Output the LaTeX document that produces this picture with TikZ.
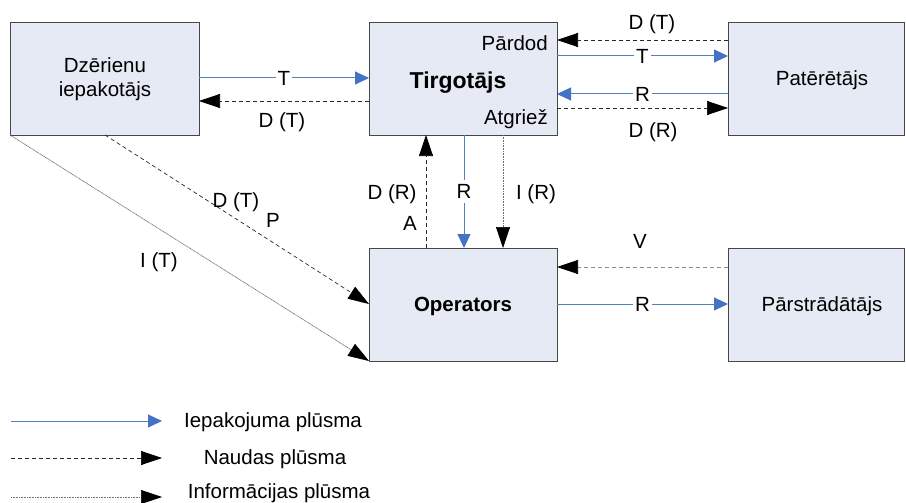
\documentclass[tikz,border=0pt]{standalone}
\usepackage{fontspec}
\setmainfont{Liberation Sans}
\usetikzlibrary{arrows.meta}
\definecolor{boxfill}{RGB}{230,234,245}
\definecolor{boxline}{RGB}{70,70,70}
\definecolor{pblue}{RGB}{79,129,189}
\definecolor{ablue}{RGB}{68,114,196}
\definecolor{dline}{RGB}{40,40,40}
\definecolor{vline}{RGB}{140,140,140}
\definecolor{iline}{RGB}{110,110,110}
\tikzset{
  every node/.style={font=\fontsize{20.5}{24}\selectfont},
  entity/.style={draw=boxline, fill=boxfill, line width=0.9pt, inner sep=0pt, anchor=north west},
  lbl/.style={inner sep=0pt, text height=14.7pt, text depth=0pt},
  onl/.style={lbl, fill=white, inner xsep=2pt},
  pack/.style={draw=pblue, line width=1pt, -{Triangle[length=14pt,width=13pt,fill=ablue,color=ablue]}},
  money/.style={draw=dline, line width=0.7pt, dash pattern=on 4pt off 3pt, -{Triangle[length=21pt,width=14pt,fill=black,color=black]}},
  info/.style={draw=iline, line width=0.7pt, dash pattern=on 1pt off 0.6pt, -{Triangle[length=21pt,width=14pt,fill=black,color=black]}},
}
\begin{document}
\begin{tikzpicture}[x=1pt,y=-1pt]
\useasboundingbox (0,0) rectangle (906,503);
% boxes
\node[entity, minimum width=189pt, minimum height=113pt] (dz) at (10,22) {};
\node[align=center] at (dz.center) {Dzērienu\\iepakotājs};
\node[entity, minimum width=188pt, minimum height=113pt] (tg) at (369,22) {};
\node[font=\fontsize{23}{26}\selectfont\bfseries, lbl] (tgt) at (458,81) {Tirgotājs};
\node[lbl, anchor=east] (pard) at (548,43) {Pārdod};
\node[lbl, anchor=east] (atg) at (548,117) {Atgriež};
\node[entity, minimum width=176pt, minimum height=113pt] (pt) at (728,22) {};
\node[lbl] at (822,78) {Patērētājs};
\node[entity, minimum width=188pt, minimum height=113pt] (op) at (369,248) {};
\node[font=\fontsize{20.5}{24}\selectfont\bfseries, lbl] at (463,304) {Operators};
\node[entity, minimum width=176pt, minimum height=113pt] (ps) at (728,248) {};
\node[lbl] at (822,304) {Pārstrādātājs};

% coordinates on box edges
\coordinate (dzR1) at (199,78); \coordinate (tgL1) at (369,78);
\coordinate (dzR2) at (199,101); \coordinate (tgL2) at (369,101);
\coordinate (tgR1) at (557,40); \coordinate (ptL1) at (728,40);
\coordinate (tgR2) at (557,56); \coordinate (ptL2) at (728,56);
\coordinate (tgR3) at (557,94); \coordinate (ptL3) at (728,94);
\coordinate (tgR4) at (557,108); \coordinate (ptL4) at (728,108);
\coordinate (tgB1) at (426,135); \coordinate (opT1) at (426,248);
\coordinate (tgB2) at (464,135); \coordinate (opT2) at (464,248);
\coordinate (tgB3) at (503,135); \coordinate (opT3) at (503,248);
\coordinate (dzB1) at (105,135); \coordinate (opL1) at (369,304);
\coordinate (dzB2) at (10,135); \coordinate (opL2) at (369,361);
\coordinate (opR1) at (557,267); \coordinate (psL1) at (728,267);
\coordinate (opR2) at (557,304); \coordinate (psL2) at (728,304);

% top left
\draw[pack] (dzR1) -- node[onl] {T} (tgL1);
\draw[money] (tgL2) -- (dzR2);
\node[lbl] at (282,120) {D (T)};
% top right
\draw[money] (ptL1) -- (tgR1);
\node[lbl] at (652,22) {D (T)};
\draw[pack] (tgR2) -- node[onl, pos=0.5] {T} (ptL2);
\draw[pack] (ptL3) -- node[onl, pos=0.5] {R} (tgR3);
\draw[money] (tgR4) -- (ptL4);
\node[lbl] at (653,130) {D (R)};
% verticals
\draw[money] (opT1) -- (tgB1);
\node[lbl] at (392,192) {D (R)};
\node[lbl] at (410,223) {A};
\draw[pack] (tgB2) -- node[onl, inner ysep=4pt, pos=0.5] {R} (opT2);
\draw[info] (tgB3) -- (opT3);
\node[lbl] at (536,192) {I (R)};
% diagonals
\draw[money] (dzB1) -- (opL1);
\node[lbl] at (236,200) {D (T)};
\node[lbl] at (273,220) {P};
\draw[info] (dzB2) -- (opL2);
\node[lbl] at (159,260) {I (T)};
% bottom right
\draw[money, draw=vline] (psL1) -- (opR1);
\node[lbl] at (640,241) {V};
\draw[pack] (opR2) -- node[onl, pos=0.5] {R} (psL2);

% legend
\coordinate (l1a) at (11,421); \coordinate (l1b) at (162,421);
\coordinate (l2a) at (11,458); \coordinate (l2b) at (162,458);
\coordinate (l3a) at (11,497); \coordinate (l3b) at (162,497);
\draw[pack] (l1a) -- (l1b);
\node[lbl] at (273,420) {Iepakojuma plūsma};
\draw[money] (l2a) -- (l2b);
\node[lbl] at (275,457) {Naudas plūsma};
\draw[info] (l3a) -- (l3b);
\node[lbl] at (279,491) {Informācijas plūsma};
\end{tikzpicture}
\end{document}
